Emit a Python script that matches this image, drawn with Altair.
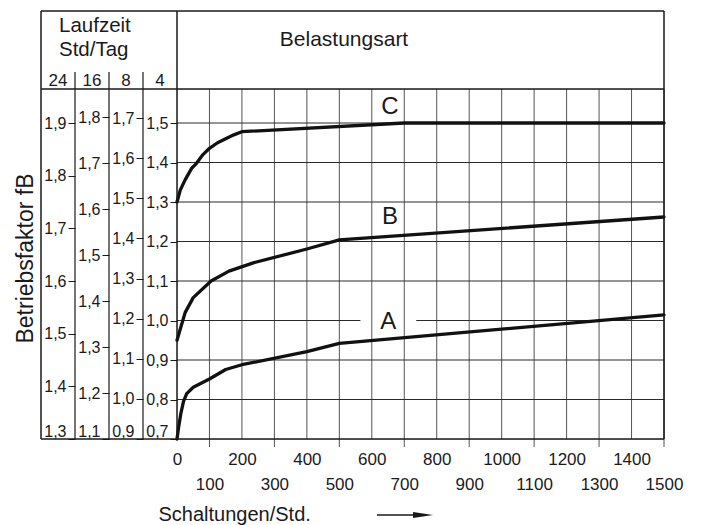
import altair as alt
import pandas as pd

# ---------------- data ----------------
x_values = list(range(0, 1501, 100))

curve_A_x = [0, 5, 12, 20, 30, 50, 100, 150, 200, 400, 500, 1500]
curve_A_y = [0.70, 0.73, 0.765, 0.795, 0.815, 0.831, 0.852, 0.876, 0.888, 0.921, 0.942, 1.014]
curve_B_x = [0, 25, 50, 105, 160, 235, 400, 500, 1500]
curve_B_y = [0.95, 1.02, 1.058, 1.10, 1.125, 1.146, 1.181, 1.204, 1.262]
curve_C_x = [0, 10, 25, 45, 60, 80, 100, 125, 150, 175, 200, 700, 1500]
curve_C_y = [1.30, 1.33, 1.356, 1.385, 1.398, 1.42, 1.436, 1.45, 1.46, 1.47, 1.478, 1.50, 1.50]

curve_names = ["A", "B", "C"]
label_x = [651, 656, 656]
label_y = [0.997, 1.262, 1.540]

scale_4 = [0.7, 0.8, 0.9, 1.0, 1.1, 1.2, 1.3, 1.4, 1.5]
scale_8 = [0.9, 1.0, 1.1, 1.2, 1.3, 1.4, 1.5, 1.6, 1.7]
scale_16 = [1.1, 1.2, 1.3, 1.4, 1.5, 1.6, 1.7, 1.8]
scale_24 = [1.3, 1.4, 1.5, 1.6, 1.7, 1.8, 1.9]

header_cols = ["24", "16", "8", "4"]
header_title = ["Laufzeit", "Std/Tag"]
top_title = "Belastungsart"
x_title = "Schaltungen/Std."
y_title = "Betriebsfaktor fB"

# ---------------- layout ----------------
W, H = 487, 350
FONT = "Liberation Sans"
INK = "#1a1a1a"
LEFT = -136      # outer frame left edge (px, relative to plot)
TOP = -78        # outer frame top edge
COL_X = [-102, -68, -34]
GAP_HALF = 86    # gap of the 1.0 grid line around label A (data units)

x_scale = alt.Scale(domain=[0, 1500], nice=False, zero=False)
y_scale = alt.Scale(domain=[0.7, 1.5861], nice=False, zero=False)
COMMA = "replace(format(datum.value, '.1f'), '.', ',')"

x_axis = alt.Axis(
    values=x_values, format="d",
    labelExpr="datum.value % 200 === 0 ? datum.label : ['', datum.label]",
    labelLineHeight=25, labelPadding=12, ticks=False, domain=False, grid=False,
    labelFlush=False, labelOverlap=False, labelFontSize=17, labelFont=FONT,
    labelColor=INK, title=x_title, titleX=-19, titleY=75, titleAlign="left",
    titleBaseline="middle", titleFontSize=20, titleFontWeight="normal",
    titleFont=FONT, titleColor=INK,
)
y_axis = alt.Axis(
    orient="left", values=scale_4, labelExpr=COMMA, tickSize=7, tickColor=INK,
    tickWidth=1, labelPadding=2, labelFontSize=16, labelFont=FONT, labelColor=INK,
    labelFlush=True, domain=False, grid=False, title=y_title, titleX=-152,
    titleY=169, titleAngle=270, titleAlign="center", titleBaseline="middle",
    titleFontSize=23, titleFontWeight="normal", titleFont=FONT, titleColor=INK,
)


def X(field):
    return alt.X(field, type="quantitative", scale=x_scale, axis=x_axis)


def Y(field):
    return alt.Y(field, type="quantitative", scale=y_scale, axis=y_axis)


one = pd.DataFrame({"a": [0]})


def seg(x1, y1, x2, y2, color=INK, width=1.5):
    return alt.Chart(one).mark_rule(color=color, strokeWidth=width).encode(
        x=alt.value(x1), x2=alt.value(x2), y=alt.value(y1), y2=alt.value(y2))


def txt(text, x, y, size, align="center", baseline="alphabetic"):
    return alt.Chart(pd.DataFrame({"t": [text]})).mark_text(
        font=FONT, fontSize=size, color=INK, align=align, baseline=baseline
    ).encode(x=alt.value(x), y=alt.value(y), text="t:N")


# grid
even_x = [v for v in x_values if v % 200 == 0 and 0 < v < 1500]
odd_x = [v for v in x_values if v % 200 == 100]
vgrid_even = alt.Chart(pd.DataFrame({"x": even_x})).mark_rule(
    color="#555", strokeWidth=1).encode(x=X("x"), y=alt.value(0), y2=alt.value(H))
vgrid_odd = alt.Chart(pd.DataFrame({"x": odd_x})).mark_rule(
    color="#555", strokeWidth=1).encode(x=X("x"), y=alt.value(0), y2=alt.value(H + 8))

hrows = []
for v in scale_4[1:]:
    if abs(v - label_y[0]) < 0.02:
        hrows.append({"y": v, "x": 0, "x2": label_x[0] - GAP_HALF})
        hrows.append({"y": v, "x": label_x[0] + GAP_HALF, "x2": 1500})
    else:
        hrows.append({"y": v, "x": 0, "x2": 1500})
hgrid = alt.Chart(pd.DataFrame(hrows)).mark_rule(color="#2a2a2a", strokeWidth=1).encode(
    x=X("x"), x2="x2", y=Y("y"))

# curves
rows = []
for name, xs, ys in [("A", curve_A_x, curve_A_y), ("B", curve_B_x, curve_B_y), ("C", curve_C_x, curve_C_y)]:
    for a, b in zip(xs, ys):
        rows.append({"x": a, "y": b, "curve": name})
curves = alt.Chart(pd.DataFrame(rows)).mark_line(
    color="#111", strokeWidth=3.3, strokeJoin="round", strokeCap="round"
).encode(x=X("x"), y=Y("y"), detail="curve:N", order="x:Q")

labels = alt.Chart(pd.DataFrame({"x": label_x, "y": label_y, "t": curve_names})).mark_text(
    font=FONT, fontSize=24, color=INK, align="center", baseline="middle"
).encode(x=X("x"), y=Y("y"), text="t:N")

# frame and header
frame = [
    seg(LEFT, TOP, W, TOP), seg(W, TOP, W, H), seg(LEFT, H, W, H),
    seg(LEFT, TOP, LEFT, H), seg(LEFT, 0, W, 0), seg(0, TOP, 0, H),
] + [seg(cx, -17, cx, H, width=1.2) for cx in COL_X]

col_centers = [(LEFT + COL_X[0]) / 2, (COL_X[0] + COL_X[1]) / 2,
               (COL_X[1] + COL_X[2]) / 2, COL_X[2] / 2]
header = [
    txt(header_title[0], -118, -57, 20.5, align="left"),
    txt(header_title[1], -118, -33, 20.5, align="left"),
    txt(top_title, 167, -43, 21),
] + [txt(c, cx, -3, 17) for c, cx in zip(header_cols, col_centers)]

arrow_line = seg(200, H + 76, 240, H + 76, width=1.3)
arrow_head = alt.Chart(one).mark_point(
    shape="M-1,-0.3L1,0L-1,0.3Z", filled=True, color=INK, opacity=1, size=400, strokeWidth=0
).encode(x=alt.value(246), y=alt.value(H + 76))

main = alt.layer(vgrid_even, vgrid_odd, hgrid, curves, labels, *frame, *header,
                 arrow_line, arrow_head)


def aux(vals, top, offset):
    return alt.Chart(pd.DataFrame({"v": vals})).mark_point(opacity=0).encode(
        y=alt.Y("v:Q", scale=alt.Scale(domain=[vals[0], top], nice=False, zero=False),
                axis=alt.Axis(orient="left", offset=offset, values=vals, labelExpr=COMMA,
                              tickSize=7, tickColor=INK, tickWidth=1, labelPadding=2,
                              labelFontSize=16, labelFont=FONT, labelColor=INK,
                              labelFlush=True, domain=False, grid=False, title=None)))


chart = alt.layer(
    main,
    aux(scale_8, 1.7723, 34),
    aux(scale_16, 1.8609, 68),
    aux(scale_24, 1.9646, 102),
).resolve_scale(y="independent").properties(
    width=W, height=H,
    autosize=alt.AutoSizeParams(type="none"),
    padding={"left": 169, "top": 81, "right": 31, "bottom": 86},
).configure_view(stroke=None).configure(font=FONT)

chart.save("out.html", embed_options={"renderer": "svg", "actions": False})
